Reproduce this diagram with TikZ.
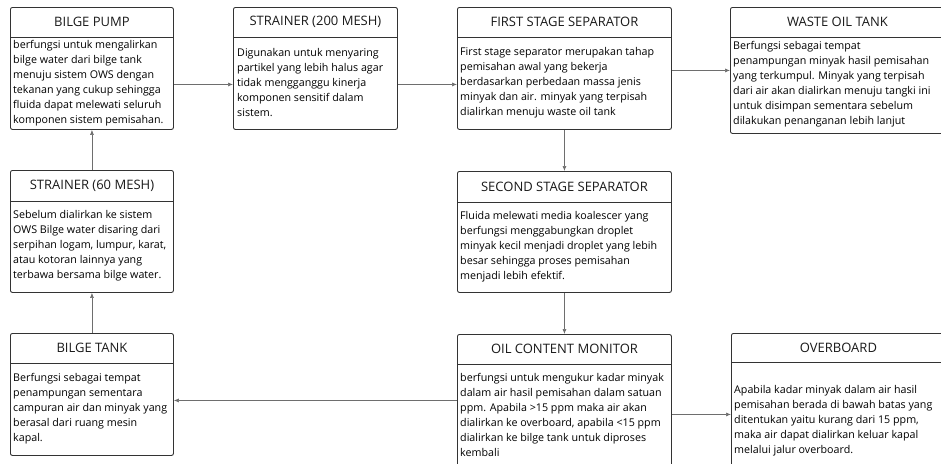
\documentclass[tikz,border=0pt]{standalone}
\usepackage{fontspec}
\setmainfont{Open Sans}
\usetikzlibrary{arrows.meta}
\definecolor{boxline}{HTML}{333333}
\definecolor{flowline}{HTML}{6E6E6E}
\begin{document}
\begin{tikzpicture}[x=1pt, y=-1pt,
    box/.style={draw=boxline, line width=0.9pt, rounded corners=2pt, anchor=north west, inner sep=0pt},
    sep/.style={draw=boxline, line width=0.9pt},
    title/.style={font=\fontsize{13}{15}\selectfont, text=black!90, inner sep=0pt},
    body/.style={font=\fontsize{10.7}{15}\selectfont, text=black, align=left, anchor=west, inner sep=0pt},
    flow/.style={draw=flowline, line width=0.6pt, -{Latex[length=5pt, width=4pt]}}]
    \useasboundingbox (0,0) rectangle (941,463);
    \clip (0,0) rectangle (941,463);

    \node[box, minimum width=163pt, minimum height=122pt] (pump) at (10,7) {};
    \node[box, minimum width=164pt, minimum height=122pt] (s200) at (233,7) {};
    \node[box, minimum width=214pt, minimum height=122pt] (fss) at (457,7) {};
    \node[box, minimum width=214pt, minimum height=126pt] (waste) at (730,7) {};
    \node[box, minimum width=163pt, minimum height=122pt] (s60) at (10,170) {};
    \node[box, minimum width=214pt, minimum height=121pt] (sss) at (457,171) {};
    \node[box, minimum width=163pt, minimum height=122pt] (tank) at (10,333) {};
    \node[box, minimum width=214pt, minimum height=132pt] (ocm) at (457,334) {};
    \node[box, minimum width=214pt, minimum height=145pt] (over) at (731,333) {};

    \draw[sep] ([yshift=-30pt]pump.north west) -- ([yshift=-30pt]pump.north east);
    \draw[sep] ([yshift=-30pt]s200.north west) -- ([yshift=-30pt]s200.north east);
    \draw[sep] ([yshift=-30pt]fss.north west) -- ([yshift=-30pt]fss.north east);
    \draw[sep] ([yshift=-30pt]waste.north west) -- ([yshift=-30pt]waste.north east);
    \draw[sep] ([yshift=-31pt]s60.north west) -- ([yshift=-31pt]s60.north east);
    \draw[sep] ([yshift=-31pt]sss.north west) -- ([yshift=-31pt]sss.north east);
    \draw[sep] ([yshift=-30pt]tank.north west) -- ([yshift=-30pt]tank.north east);
    \draw[sep] ([yshift=-30pt]ocm.north west) -- ([yshift=-30pt]ocm.north east);
    \draw[sep] ([yshift=-29pt]over.north west) -- ([yshift=-29pt]over.north east);

    \node[title] (pump-t) at ([yshift=-15pt]pump.north) {BILGE PUMP};
    \node[title] (s200-t) at ([yshift=-15pt]s200.north) {STRAINER (200 MESH)};
    \node[title] (fss-t) at ([yshift=-15pt]fss.north) {FIRST STAGE SEPARATOR};
    \node[title] (waste-t) at ([yshift=-15pt]waste.north) {WASTE OIL TANK};
    \node[title] (s60-t) at ([yshift=-15.5pt]s60.north) {STRAINER (60 MESH)};
    \node[title] (sss-t) at ([yshift=-15.5pt]sss.north) {SECOND STAGE SEPARATOR};
    \node[title] (tank-t) at ([yshift=-15pt]tank.north) {BILGE TANK};
    \node[title] (ocm-t) at ([yshift=-15pt]ocm.north) {OIL CONTENT MONITOR};
    \node[title] (over-t) at ([yshift=-14.5pt]over.north) {OVERBOARD};

    \node[body] (pump-b) at (13,83) {berfungsi untuk mengalirkan\\bilge water dari bilge tank\\menuju sistem OWS dengan\\tekanan yang cukup sehingga\\fluida dapat melewati seluruh\\komponen sistem pemisahan.};
    \node[body] (s200-b) at (237,83) {Digunakan untuk menyaring\\partikel yang lebih halus agar\\tidak mengganggu kinerja\\komponen sensitif dalam\\sistem.};
    \node[body] (fss-b) at (460,83) {First stage separator merupakan tahap\\pemisahan awal yang bekerja\\berdasarkan perbedaan massa jenis\\minyak dan air. minyak yang terpisah\\dialirkan menuju waste oil tank};
    \node[body] (waste-b) at (733,84) {Berfungsi sebagai tempat\\penampungan minyak hasil pemisahan\\yang terkumpul. Minyak yang terpisah\\dari air akan dialirkan menuju tangki ini\\untuk disimpan sementara sebelum\\dilakukan penanganan lebih lanjut};
    \node[body] (s60-b) at (13,246) {Sebelum dialirkan ke sistem\\OWS Bilge water disaring dari\\serpihan logam, lumpur, karat,\\atau kotoran lainnya yang\\terbawa bersama bilge water.};
    \node[body] (sss-b) at (460,247) {Fluida melewati media koalescer yang\\berfungsi menggabungkan droplet\\minyak kecil menjadi droplet yang lebih\\besar sehingga proses pemisahan\\menjadi lebih efektif.};
    \node[body] (tank-b) at (13,409) {Berfungsi sebagai tempat\\penampungan sementara\\campuran air dan minyak yang\\berasal dari ruang mesin\\kapal.};
    \node[body] (ocm-b) at (460,414.5) {berfungsi untuk mengukur kadar minyak\\dalam air hasil pemisahan dalam satuan\\ppm. Apabila >15 ppm maka air akan\\dialirkan ke overboard, apabila <15 ppm\\dialirkan ke bilge tank untuk diproses\\kembali};
    \node[body] (over-b) at (734,421) {Apabila kadar minyak dalam air hasil\\pemisahan berada di bawah batas yang\\ditentukan yaitu kurang dari 15 ppm,\\maka air dapat dialirkan keluar kapal\\melalui jalur overboard.};

    \draw[flow] ([yshift=-16pt]pump.east) -- ([yshift=-16pt]s200.west);
    \draw[flow] ([yshift=-16pt]s200.east) -- ([yshift=-16pt]fss.west);
    \draw[flow] (fss.east |- waste.west) -- (waste.west);
    \draw[flow] (fss.south) -- (sss.north);
    \draw[flow] (sss.south) -- (ocm.north);
    \draw[flow] (ocm.west) -- (ocm.west -| tank.east);
    \draw[flow] ([yshift=-14pt]ocm.east) -- ([yshift=-14pt]ocm.east -| over.west);
    \draw[flow] (tank.north) -- (s60.south);
    \draw[flow] (s60.north) -- (pump.south);
\end{tikzpicture}
\end{document}
